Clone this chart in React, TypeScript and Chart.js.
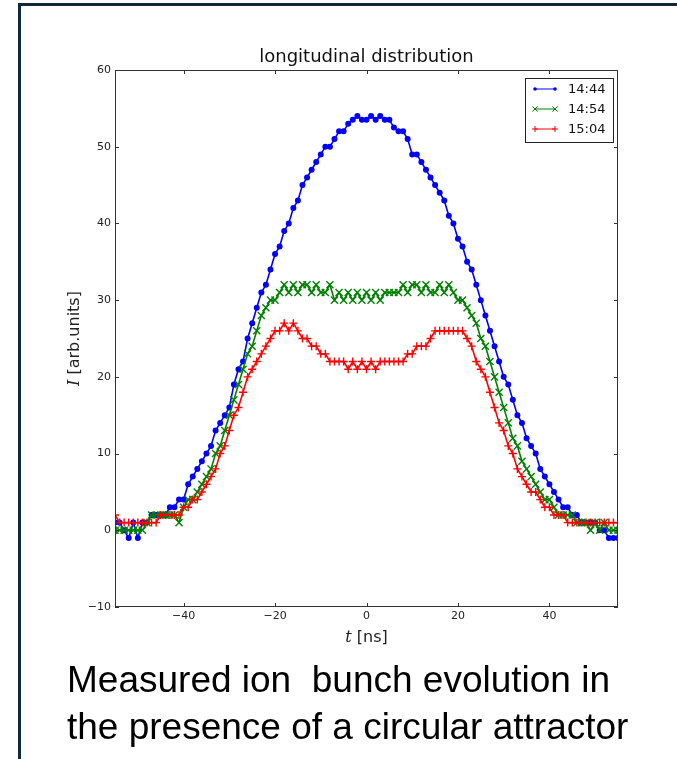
import React, { useEffect, useRef } from 'react';
import { Chart, registerables } from 'chart.js';

Chart.register(...registerables);

const TIMES = [
  -55, -54, -53, -52, -51, -50, -49, -48, -47, -46,
  -45, -44, -43, -42, -41, -40, -39, -38, -37, -36,
  -35, -34, -33, -32, -31, -30, -29, -28, -27, -26,
  -25, -24, -23, -22, -21, -20, -19, -18, -17, -16,
  -15, -14, -13, -12, -11, -10, -9, -8, -7, -6,
  -5, -4, -3, -2, -1, 0, 1, 2, 3, 4,
  5, 6, 7, 8, 9, 10, 11, 12, 13, 14,
  15, 16, 17, 18, 19, 20, 21, 22, 23, 24,
  25, 26, 27, 28, 29, 30, 31, 32, 33, 34,
  35, 36, 37, 38, 39, 40, 41, 42, 43, 44,
  45, 46, 47, 48, 49, 50, 51, 52, 53, 54, 55,
];

const SERIES_1444 = [
  1, 1, 0, -1, 1, -1, 1, 1, 2, 2,
  2, 2, 3, 3, 4, 4, 6, 7, 8, 9,
  10, 11, 13, 14, 15, 16, 19, 21, 22, 25,
  27, 29, 31, 32, 34, 36, 37, 39, 40, 42,
  43, 45, 46, 47, 48, 49, 50, 50, 51, 52,
  52, 53, 53.5, 54, 53.5, 53.5, 54, 53.5, 54, 53.5,
  53.5, 52.5, 52, 52, 51, 49, 49, 48, 47, 46,
  45, 44, 43, 41, 40, 38, 37, 35, 34, 32,
  30, 28, 26, 24, 22, 20, 19, 17, 15, 14,
  12, 11, 10, 8, 7, 6, 5, 4, 3, 3,
  2, 2, 1, 1, 1, 1, 0, 0, -1, -1, -1,
];

const SERIES_1454 = [
  0, 0, 0, 0, 0, 0, 0, 1, 2, 2,
  2, 2, 2, 2, 1, 3, 4, 4, 5, 6,
  7, 8, 10, 11, 13, 15, 17, 19, 21, 23,
  24, 26, 28, 29, 30, 30, 31, 32, 31, 32,
  31, 32, 32, 31, 32, 31, 31, 32, 30, 31,
  30, 31, 30, 31, 30, 31, 30, 31, 30, 31,
  31, 31, 31, 32, 31, 32, 32, 31, 32, 31,
  31, 32, 31, 32, 31, 30, 30, 29, 28, 27,
  25, 24, 22, 20, 18, 16, 14, 12, 11, 9,
  8, 7, 6, 5, 4, 4, 3, 2, 2, 2,
  2, 1, 1, 1, 0, 1, 0, 1, 0, 0, 0,
];

const SERIES_1504 = [
  2, 1, 1, 1, 1, 1, 1, 1, 1, 1,
  2, 2, 2, 2, 2, 3, 3, 4, 4, 5,
  6, 7, 8, 10, 11, 13, 15, 16, 18, 20,
  21, 22, 23, 24, 25, 26, 26, 27, 26, 27,
  26, 25, 25, 24, 24, 23, 23, 22, 22, 22,
  22, 21, 22, 21, 22, 21, 22, 21, 22, 22,
  22, 22, 22, 22, 23, 23, 24, 24, 24, 25,
  26, 26, 26, 26, 26, 26, 26, 25, 24, 22,
  21, 20, 18, 16, 14, 13, 11, 10, 8, 7,
  6, 5, 5, 4, 3, 3, 2, 2, 2, 1,
  1, 1, 1, 1, 1, 1, 1, 1, 1, 1, 1,
];

const SERIES_LABELS = ['14:44', '14:54', '15:04'];
const SERIES_COLORS = ['#0000ff', '#008000', '#ff0000'];
const SERIES_STYLES = ['circle', 'crossRot', 'cross'];
const SERIES_RADII = [2.3, 5, 4];
const LEGEND_RADII = [1.8, 2.6, 3];
const X_TICKS = [-40, -20, 0, 20, 40];
const Y_TICKS = [-10, 0, 10, 20, 30, 40, 50, 60];
const TITLE = 'longitudinal distribution';
const CAPTION = ['Measured ion  bunch evolution in', 'the presence of a circular attractor'];

const fmt = (v: number) => (v < 0 ? '\u2212' + Math.abs(v) : String(v));

function drawMark(ctx: CanvasRenderingContext2D, style: string, cx: number, cy: number, r: number, color: string) {
  ctx.strokeStyle = color;
  ctx.fillStyle = color;
  ctx.lineWidth = 1;
  ctx.beginPath();
  if (style === 'circle') {
    ctx.arc(cx, cy, r, 0, Math.PI * 2);
    ctx.fill();
  } else if (style === 'cross') {
    ctx.moveTo(cx - r, cy);
    ctx.lineTo(cx + r, cy);
    ctx.moveTo(cx, cy - r);
    ctx.lineTo(cx, cy + r);
    ctx.stroke();
  } else {
    const d = r;
    ctx.moveTo(cx - d, cy - d);
    ctx.lineTo(cx + d, cy + d);
    ctx.moveTo(cx - d, cy + d);
    ctx.lineTo(cx + d, cy - d);
    ctx.stroke();
  }
}

function drawMixed(ctx: CanvasRenderingContext2D, parts: [string, string][], cx: number, cy: number) {
  let total = 0;
  const widths = parts.map(([font, text]) => {
    ctx.font = font;
    const w = ctx.measureText(text).width;
    total += w;
    return w;
  });
  let x = cx - total / 2;
  ctx.textAlign = 'left';
  ctx.textBaseline = 'middle';
  parts.forEach(([font, text], i) => {
    ctx.font = font;
    ctx.fillText(text, x, cy);
    x += widths[i];
  });
}

const decorPlugin = {
  id: 'decor',
  afterDatasetsDraw(chart: any) {
    const { ctx, chartArea: a, scales } = chart;
    const xs = scales.x;
    const ys = scales.y;
    ctx.save();
    ctx.strokeStyle = '#333333';
    ctx.lineWidth = 1;
    ctx.strokeRect(a.left + 0.5, a.top + 0.5, a.right - a.left - 1, a.bottom - a.top - 1);
    ctx.beginPath();
    X_TICKS.forEach((v) => {
      const px = Math.round(xs.getPixelForValue(v)) + 0.5;
      ctx.moveTo(px, a.bottom);
      ctx.lineTo(px, a.bottom - 4);
      ctx.moveTo(px, a.top);
      ctx.lineTo(px, a.top + 4);
    });
    Y_TICKS.forEach((v) => {
      const py = Math.round(ys.getPixelForValue(v)) + 0.5;
      ctx.moveTo(a.left, py);
      ctx.lineTo(a.left + 4, py);
      ctx.moveTo(a.right, py);
      ctx.lineTo(a.right - 4, py);
    });
    ctx.stroke();

    ctx.fillStyle = '#111111';
    ctx.font = '18px "DejaVu Sans"';
    ctx.textAlign = 'center';
    ctx.textBaseline = 'middle';
    ctx.fillText(TITLE, (a.left + a.right) / 2, a.top - 13);

    ctx.fillStyle = '#222222';
    drawMixed(ctx, [['italic 16px "DejaVu Serif"', 't'], ['16px "DejaVu Sans"', ' [ns]']], (a.left + a.right) / 2, a.bottom + 31);

    ctx.save();
    ctx.translate(75, (a.top + a.bottom) / 2);
    ctx.rotate(-Math.PI / 2);
    drawMixed(ctx, [['italic 16px "DejaVu Serif"', 'I'], ['16px "DejaVu Sans"', ' [arb.units]']], 0, 0);
    ctx.restore();

    const bx = a.right - 93;
    const by = a.top + 8;
    ctx.fillStyle = '#ffffff';
    ctx.fillRect(bx, by, 88, 64);
    ctx.strokeStyle = '#222222';
    ctx.lineWidth = 1;
    ctx.strokeRect(bx + 0.5, by + 0.5, 88, 64);
    SERIES_LABELS.forEach((label, i) => {
      const ly = by + 11 + i * 20;
      const x0 = bx + 10;
      const x1 = bx + 30;
      ctx.strokeStyle = SERIES_COLORS[i];
      ctx.lineWidth = 1;
      ctx.beginPath();
      ctx.moveTo(x0, ly);
      ctx.lineTo(x1, ly);
      ctx.stroke();
      drawMark(ctx, SERIES_STYLES[i], x0, ly, LEGEND_RADII[i], SERIES_COLORS[i]);
      drawMark(ctx, SERIES_STYLES[i], x1, ly, LEGEND_RADII[i], SERIES_COLORS[i]);
      ctx.fillStyle = '#111111';
      ctx.font = '13px "DejaVu Sans"';
      ctx.textAlign = 'left';
      ctx.textBaseline = 'middle';
      ctx.fillText(label, bx + 43, ly + 1);
    });
    ctx.restore();
  },
};

export default function App() {
  const canvasRef = useRef<HTMLCanvasElement | null>(null);

  useEffect(() => {
    const canvas = canvasRef.current;
    if (!canvas) return;
    const seriesList = [SERIES_1444, SERIES_1454, SERIES_1504];
    const datasets = seriesList.map((series, i) => ({
      label: SERIES_LABELS[i],
      data: TIMES.map((t, j) => ({ x: t, y: series[j] })),
      borderColor: SERIES_COLORS[i],
      backgroundColor: SERIES_COLORS[i],
      borderWidth: 1.6,
      pointStyle: SERIES_STYLES[i] as any,
      pointRadius: SERIES_RADII[i],
      pointBorderWidth: 1.4,
      pointBorderColor: SERIES_COLORS[i],
      pointBackgroundColor: SERIES_COLORS[i],
      tension: 0,
      order: 3 - i,
    }));
    const chart = new Chart(canvas, {
      type: 'line',
      data: { datasets },
      options: {
        animation: false,
        responsive: false,
        events: [],
        layout: { padding: { left: 0, right: 59, top: 70, bottom: 0 } },
        plugins: {
          legend: { display: false },
          title: { display: false },
          tooltip: { enabled: false },
        },
        scales: {
          x: {
            type: 'linear',
            min: -55,
            max: 55,
            grid: { display: false, drawTicks: false },
            border: { display: false },
            afterBuildTicks: (s: any) => {
              s.ticks = X_TICKS.map((v) => ({ value: v }));
            },
            afterFit: (s: any) => {
              s.height = 53;
            },
            ticks: {
              padding: 3,
              autoSkip: false,
              maxRotation: 0,
              color: '#222222',
              font: { family: '"DejaVu Sans"', size: 11 },
              callback: (v: any) => fmt(Number(v)),
            },
          },
          y: {
            type: 'linear',
            min: -10,
            max: 60,
            grid: { display: false, drawTicks: false },
            border: { display: false },
            afterBuildTicks: (s: any) => {
              s.ticks = Y_TICKS.map((v) => ({ value: v }));
            },
            afterFit: (s: any) => {
              s.width = 115;
            },
            ticks: {
              padding: 4,
              color: '#222222',
              font: { family: '"DejaVu Sans"', size: 11 },
              callback: (v: any) => fmt(Number(v)),
            },
          },
        },
      },
      plugins: [decorPlugin],
    });
    return () => chart.destroy();
  }, []);

  return (
    <div style={{ position: 'absolute', left: 0, top: 0, width: 677, height: 759, background: '#ffffff', overflow: 'hidden' }}>
      <div style={{ position: 'absolute', left: 18, top: 3, width: 659, height: 3, background: '#112a3b' }} />
      <div style={{ position: 'absolute', left: 18, top: 3, width: 3, height: 756, background: '#112a3b' }} />
      <canvas ref={canvasRef} width={677} height={660} style={{ position: 'absolute', left: 0, top: 0, display: 'block' }} />
      <div
        style={{
          position: 'absolute',
          left: 67,
          top: 656,
          fontFamily: '"Liberation Sans", Arial, sans-serif',
          fontSize: 37,
          lineHeight: '47px',
          color: '#000000',
          whiteSpace: 'pre',
        }}
      >
        {CAPTION[0]}
        {'\n'}
        {CAPTION[1]}
      </div>
    </div>
  );
}
